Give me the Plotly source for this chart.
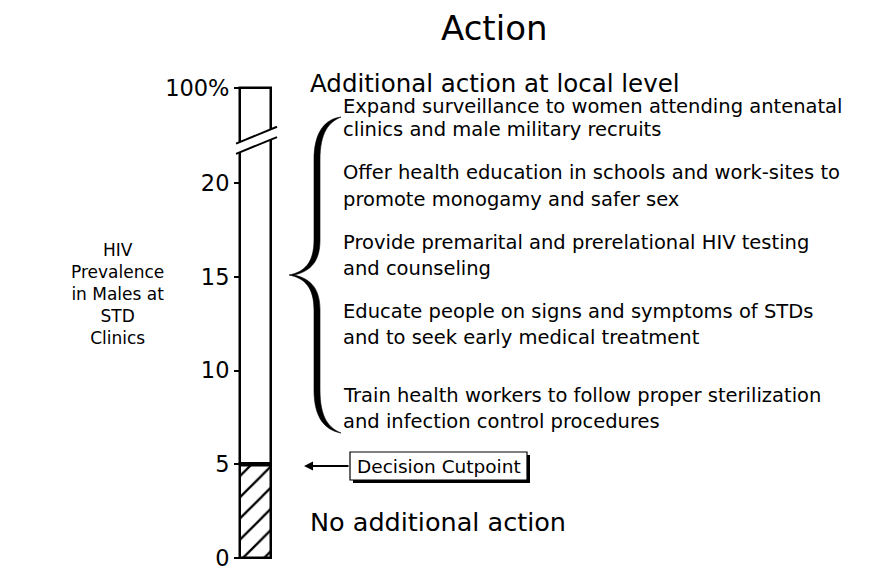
import plotly.graph_objects as go

# ---------------- data ----------------
tick_values = [0, 5, 10, 15, 20, 25.07]
tick_labels = ["0", "5", "10", "15", "20", "100%"]
cutpoint = 5
top_value = 25.07          # axis position that stands for 100%
break_value = 21.55        # where the axis break starts (left side)

title_text = "Action"
upper_heading = "Additional action at local level"
lower_heading = "No additional action"
actions = [
    ["Expand surveillance to women attending antenatal", "clinics and male military recruits"],
    ["Offer health education in schools and work-sites to", "promote monogamy and safer sex"],
    ["Provide premarital and prerelational HIV testing", "and counseling"],
    ["Educate people on signs and symptoms of STDs", "and to seek early medical treatment"],
    ["Train health workers to follow proper sterilization", "and infection control procedures"],
]
y_title_lines = ["HIV", "Prevalence", "in Males at", "STD", "Clinics"]
cutpoint_label = "Decision Cutpoint"

# ---------------- layout helpers ----------------
PAGE_W, PAGE_H = 876, 566
OFF = 8                      # default page margin around the figure
W, H = PAGE_W - OFF, PAGE_H - OFF
PX_PER_UNIT = 18.75
Y0_PX = 558                  # page pixel of value 0
ymin = -(PAGE_H - Y0_PX) / PX_PER_UNIT
ymax = ymin + H / PX_PER_UNIT
BAR_L, BAR_R = 240, 271
FONT = "DejaVu Sans, Verdana, sans-serif"


def py(p):
    return 1 - (p - OFF) / H


fig = go.Figure()

# hatched segment below cutpoint
fig.add_trace(go.Bar(
    x=[(BAR_L + BAR_R) / 2], y=[cutpoint - 0], base=[0], width=[BAR_R - BAR_L],
    marker=dict(color="white", line=dict(color="black", width=2.5),
                pattern=dict(shape="/", fgcolor="black", bgcolor="white", size=15, solidity=0.15,
                             fgopacity=1)),
    showlegend=False, hoverinfo="skip"))
# white segment above cutpoint
fig.add_trace(go.Bar(
    x=[(BAR_L + BAR_R) / 2], y=[top_value - cutpoint], base=[cutpoint], width=[BAR_R - BAR_L],
    marker=dict(color="white", line=dict(color="black", width=2.5)),
    showlegend=False, hoverinfo="skip"))

shapes = []
# thick cutpoint line
shapes.append(dict(type="line", xref="x", yref="y", x0=BAR_L, x1=BAR_R, y0=cutpoint, y1=cutpoint,
                   line=dict(color="black", width=4.5)))
# axis break
rise = 0.9
gap = 0.55
b = break_value
shapes.append(dict(type="path", xref="x", yref="y",
                   path=f"M {BAR_L-4},{b} L {BAR_R+6},{b+rise} L {BAR_R+6},{b+rise+gap} L {BAR_L-4},{b+gap} Z",
                   fillcolor="white", line=dict(width=0)))
for off in (0, gap):
    shapes.append(dict(type="line", xref="x", yref="y", x0=BAR_L - 4, x1=BAR_R + 6,
                       y0=b + off, y1=b + off + rise, line=dict(color="black", width=2)))

# curly brace (page pixel coords -> paper)
def P(x, yp):
    return f"{x},{py(yp)}"

brace = (f"M {P(341,117)} C {P(325,119)} {P(314,132)} {P(314,160)} L {P(314,240)} "
         f"C {P(314,262)} {P(305,272)} {P(289,275)} C {P(305,278)} {P(314,288)} {P(314,310)} "
         f"L {P(314,390)} C {P(314,418)} {P(325,430)} {P(341,433)} "
         f"C {P(329,428)} {P(320,418)} {P(320,390)} L {P(320,310)} "
         f"C {P(320,290)} {P(312,279)} {P(294,275)} C {P(312,271)} {P(320,260)} {P(320,240)} "
         f"L {P(320,160)} C {P(320,132)} {P(329,122)} {P(341,117)} Z")
shapes.append(dict(type="path", xref="x", yref="paper", path=brace,
                   fillcolor="black", line=dict(color="black", width=0.6)))

# Decision cutpoint box with shadow
BX0, BX1, BY0, BY1 = 350, 527, 452, 480
shapes.append(dict(type="rect", xref="x", yref="paper", x0=BX0 + 3, x1=BX1 + 3, y0=py(BY1 + 3), y1=py(BY0 + 3),
                   fillcolor="black", line=dict(width=0)))
shapes.append(dict(type="rect", xref="x", yref="paper", x0=BX0, x1=BX1, y0=py(BY1), y1=py(BY0),
                   fillcolor="white", line=dict(color="black", width=1.2)))

annotations = []
annotations.append(dict(x=494, y=py(28), xref="x", yref="paper", text=title_text, showarrow=False, borderpad=0,
                        font=dict(size=34, color="black", family=FONT), xanchor="center", yanchor="middle"))
annotations.append(dict(x=309, y=py(83), xref="x", yref="paper", text=upper_heading, showarrow=False, borderpad=0,
                        font=dict(size=24.5, color="black", family=FONT), xanchor="left", yanchor="middle"))
annotations.append(dict(x=309, y=py(522), xref="x", yref="paper", text=lower_heading, showarrow=False, borderpad=0,
                        font=dict(size=25.5, color="black", family=FONT), xanchor="left", yanchor="middle"))

line_y = [(106, 130), (173, 199), (242, 268), (311, 337), (395, 421)]
for (l1, l2), (y1, y2) in zip(actions, line_y):
    for t, yy in ((l1, y1), (l2, y2)):
        annotations.append(dict(x=342, y=py(yy), xref="x", yref="paper", text=t, showarrow=False, borderpad=0,
                                font=dict(size=19.5, color="black", family=FONT), xanchor="left", yanchor="middle"))

annotations.append(dict(x=117, y=py(294), xref="x", yref="paper", text="<br>".join(y_title_lines),
                        showarrow=False, align="center", borderpad=0,
                        font=dict(size=17, color="black", family=FONT), xanchor="center", yanchor="middle"))

annotations.append(dict(x=(BX0 + BX1) / 2, y=py(466), xref="x", yref="paper", text=cutpoint_label,
                        showarrow=False, borderpad=0, font=dict(size=18.5, color="black", family=FONT),
                        xanchor="center", yanchor="middle"))
# arrow to cutpoint
annotations.append(dict(x=304, y=py(466), ax=BX0 - 304, ay=0, xref="x", yref="paper",
                        axref="pixel", ayref="pixel",
                        text="", showarrow=True, arrowhead=2, arrowsize=1, arrowwidth=1.8, arrowcolor="black"))

fig.update_layout(
    width=W, height=H, margin=dict(l=0, r=0, t=0, b=0, autoexpand=False),
    plot_bgcolor="white", paper_bgcolor="white",
    barmode="overlay", bargap=0,
    xaxis=dict(range=[OFF, PAGE_W], visible=False, fixedrange=True, automargin=False),
    yaxis=dict(range=[ymin, ymax], anchor="free", position=(BAR_L - OFF) / W, side="left",
               tickvals=tick_values, ticktext=tick_labels, ticks="outside", ticklen=6, tickwidth=2,
               tickcolor="black", showgrid=False, zeroline=False, showline=False,
               ticklabeloverflow="allow", automargin=False,
               tickfont=dict(size=22.5, color="black", family=FONT)),
    shapes=shapes, annotations=annotations,
)

fig.write_html("out.html")
